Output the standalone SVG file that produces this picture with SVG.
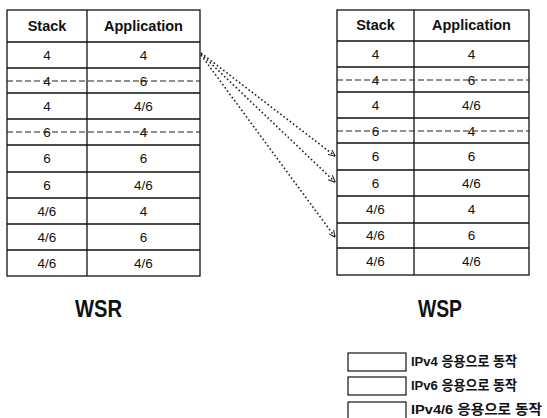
<svg xmlns="http://www.w3.org/2000/svg" width="547" height="418" viewBox="0 0 547 418">
<style>
.bg{fill:#fff}
.grid{stroke:#111;stroke-width:1.3;fill:none}
.dash{stroke:#222;stroke-width:1.1;stroke-dasharray:6 3;fill:none}
.hd{font-family:"Liberation Sans",Arial,sans-serif;font-weight:bold;font-size:14.5px;fill:#111;text-anchor:middle}
.c{font-family:"Liberation Sans",Arial,sans-serif;font-size:13.5px;fill:#111;text-anchor:middle}
.ttl{font-family:"Liberation Sans",Arial,sans-serif;font-weight:bold;font-size:23px;fill:#111}
.lg{font-family:"Liberation Sans","Noto Sans CJK KR",sans-serif;font-weight:bold;font-size:13.5px;fill:#111}
.conn{stroke:#222;stroke-width:1.6;stroke-dasharray:1.6 2.4;fill:none}
.lbox{fill:#fff;stroke:#111;stroke-width:1.2}
</style>
<defs>
<marker id="ah" viewBox="0 0 8 8" refX="7.5" refY="4" markerWidth="7" markerHeight="7" markerUnits="userSpaceOnUse" orient="auto">
<path d="M0,0.5 L8,4 L0,7.5" fill="none" stroke="#222" stroke-width="1.2"/>
</marker>
</defs>
<rect class="bg" x="0" y="0" width="547" height="418"/>

<g id="table-wsr">
<rect class="grid" x="7" y="10" width="193" height="266"/>
<line class="grid" x1="87" y1="10" x2="87" y2="276"/>
<path class="grid" d="M7 42H200M7 68H200M7 93H200M7 119H200M7 145H200M7 172H200M7 198H200M7 224H200M7 250H200"/>
<text class="hd" x="47" y="31">Stack</text>
<text class="hd" x="143.5" y="31">Application</text>
<text class="c" x="47" y="60">4</text><text class="c" x="143.5" y="60">4</text>
<text class="c" x="47" y="86">4</text><text class="c" x="143.5" y="86">6</text>
<text class="c" x="47" y="111">4</text><text class="c" x="143.5" y="111">4/6</text>
<text class="c" x="47" y="137">6</text><text class="c" x="143.5" y="137">4</text>
<text class="c" x="47" y="163">6</text><text class="c" x="143.5" y="163">6</text>
<text class="c" x="47" y="190">6</text><text class="c" x="143.5" y="190">4/6</text>
<text class="c" x="47" y="216">4/6</text><text class="c" x="143.5" y="216">4</text>
<text class="c" x="47" y="242">4/6</text><text class="c" x="143.5" y="242">6</text>
<text class="c" x="47" y="268">4/6</text><text class="c" x="143.5" y="268">4/6</text>
<path class="dash" d="M7 81H200M7 132H200"/>
</g>

<g id="table-wsp">
<rect class="grid" x="337" y="10" width="192" height="265"/>
<line class="grid" x1="414" y1="10" x2="414" y2="275"/>
<path class="grid" d="M337 41H529M337 67H529M337 92H529M337 118H529M337 143H529M337 170H529M337 196H529M337 223H529M337 248H529"/>
<text class="hd" x="375.5" y="30">Stack</text>
<text class="hd" x="471.5" y="30">Application</text>
<text class="c" x="375.5" y="59">4</text><text class="c" x="471.5" y="59">4</text>
<text class="c" x="375.5" y="85">4</text><text class="c" x="471.5" y="85">6</text>
<text class="c" x="375.5" y="110">4</text><text class="c" x="471.5" y="110">4/6</text>
<text class="c" x="375.5" y="136">6</text><text class="c" x="471.5" y="136">4</text>
<text class="c" x="375.5" y="161">6</text><text class="c" x="471.5" y="161">6</text>
<text class="c" x="375.5" y="188">6</text><text class="c" x="471.5" y="188">4/6</text>
<text class="c" x="375.5" y="214">4/6</text><text class="c" x="471.5" y="214">4</text>
<text class="c" x="375.5" y="240">4/6</text><text class="c" x="471.5" y="240">6</text>
<text class="c" x="375.5" y="266">4/6</text><text class="c" x="471.5" y="266">4/6</text>
<path class="dash" d="M337 80H529M337 131H529"/>
</g>

<g id="connectors">
<line class="conn" x1="201" y1="53" x2="335" y2="156" marker-end="url(#ah)"/>
<line class="conn" x1="201" y1="54" x2="335" y2="182" marker-end="url(#ah)"/>
<line class="conn" x1="201" y1="55" x2="335" y2="237" marker-end="url(#ah)"/>
</g>

<g id="label-wsr"><text class="ttl" x="75" y="317" textLength="47" lengthAdjust="spacingAndGlyphs">WSR</text></g>
<g id="label-wsp"><text class="ttl" x="418" y="317" textLength="44" lengthAdjust="spacingAndGlyphs">WSP</text></g>

<g id="legend">
<rect class="lbox" x="348" y="353" width="58" height="18"/>
<rect class="lbox" x="348" y="377" width="58" height="18"/>
<rect class="lbox" x="348" y="402" width="58" height="18"/>
<text class="lg" x="411" y="366" textLength="106" lengthAdjust="spacingAndGlyphs">IPv4 응용으로 동작</text>
<text class="lg" x="411" y="390" textLength="106" lengthAdjust="spacingAndGlyphs">IPv6 응용으로 동작</text>
<text class="lg" x="411" y="414" textLength="131" lengthAdjust="spacingAndGlyphs">IPv4/6 응용으로 동작</text>
</g>
</svg>
